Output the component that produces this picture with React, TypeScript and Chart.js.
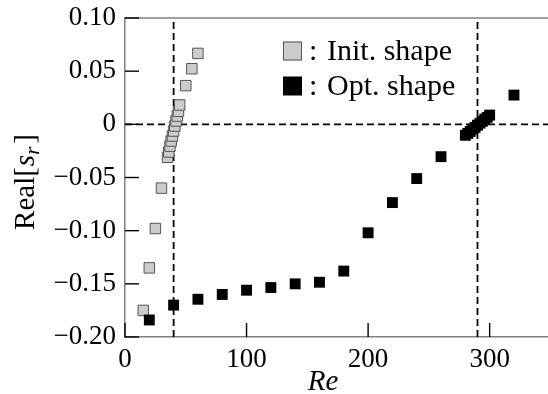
import React, { useEffect, useRef } from "react";
import { Chart, registerables } from "chart.js";

Chart.register(...registerables);

// ---- data ----
const initRe = [15, 20, 25, 30, 35, 36, 37, 38, 39, 40, 41, 42, 43, 44, 45, 50, 55, 60];
const initReal = [-0.175, -0.135, -0.098, -0.06, -0.031, -0.026, -0.0205, -0.0157, -0.011, -0.0063, -0.0016, 0.0031, 0.0078, 0.0122, 0.0182, 0.0364, 0.0523, 0.0667];

const optRe = [20, 40, 60, 80, 100, 120, 140, 160, 180, 200, 220, 240, 260, 280, 282, 284, 286, 288, 290, 292, 294, 296, 298, 300, 320];
const optReal = [-0.184, -0.17, -0.1645, -0.16, -0.156, -0.1535, -0.15, -0.1485, -0.138, -0.102, -0.0736, -0.051, -0.0304, -0.0103, -0.0085, -0.0067, -0.0046, -0.0029, -0.0008, 0.0011, 0.0028, 0.0049, 0.0066, 0.0087, 0.0275];

const criticalRe = [40, 290];
const zeroLevel = [0];

const xTickValues = [0, 100, 200, 300];
const xTickLabels = ["0", "100", "200", "300"];
const yTickValues = [-0.2, -0.15, -0.1, -0.05, 0, 0.05, 0.1];
const yTickLabels = ["\u22120.20", "\u22120.15", "\u22120.10", "\u22120.05", "0", "0.05", "0.10"];

const xRange = [0, 348];
const yRange = [-0.2, 0.1];

const legendLabels = ["Init. shape", "Opt. shape"];
const xTitle = "Re";
const yTitleParts = ["Real[", "s", "r", "]"];

const FONT = "'Liberation Serif', 'Times New Roman', serif";
const INIT_FILL = "#cccccc";
const INIT_EDGE = "#555555";
const FRAME = "#808080";

export default function App() {
  const ref = useRef<HTMLCanvasElement | null>(null);

  useEffect(() => {
    const canvas = ref.current;
    if (!canvas) return;

    const decorPlugin = {
      id: "decor",
      beforeDatasetsDraw(chart: any) {
        const { ctx, chartArea, scales } = chart;
        const { left, right, top, bottom } = chartArea;
        ctx.save();
        // top frame line
        ctx.strokeStyle = FRAME;
        ctx.lineWidth = 1.5;
        ctx.beginPath();
        ctx.moveTo(left, top);
        ctx.lineTo(right + 2, top);
        ctx.stroke();
        // inward ticks
        ctx.strokeStyle = "#000";
        ctx.lineWidth = 1.4;
        const tl = 14;
        for (const t of scales.x.ticks) {
          const px = scales.x.getPixelForValue(t.value);
          ctx.beginPath();
          ctx.moveTo(px, bottom);
          ctx.lineTo(px, bottom - tl);
          ctx.stroke();
        }
        for (const t of scales.y.ticks) {
          const py = scales.y.getPixelForValue(t.value);
          ctx.beginPath();
          ctx.moveTo(left, py);
          ctx.lineTo(left + tl, py);
          ctx.stroke();
        }
        ctx.restore();
      },
      afterDraw(chart: any) {
        const { ctx } = chart;
        ctx.save();
        ctx.fillStyle = "#000";
        // x title
        ctx.font = `italic 29px ${FONT}`;
        ctx.textAlign = "center";
        ctx.textBaseline = "alphabetic";
        ctx.fillText(xTitle, 323, 390);

        // y title (rotated, with italic s and subscript r)
        ctx.translate(34, 182);
        ctx.rotate(-Math.PI / 2);
        const fN = `29px ${FONT}`;
        const fI = `italic 29px ${FONT}`;
        const fS = `italic 21px ${FONT}`;
        ctx.font = fN;
        const w0 = ctx.measureText(yTitleParts[0]).width;
        ctx.font = fI;
        const w1 = ctx.measureText(yTitleParts[1]).width;
        ctx.font = fS;
        const w2 = ctx.measureText(yTitleParts[2]).width;
        ctx.font = fN;
        const w3 = ctx.measureText(yTitleParts[3]).width;
        const total = w0 + w1 + w2 + 4 + w3;
        let x = -total / 2;
        ctx.textAlign = "left";
        ctx.font = fN;
        ctx.fillText(yTitleParts[0], x, 0);
        x += w0 + 1;
        ctx.font = fI;
        ctx.fillText(yTitleParts[1], x, 0);
        x += w1;
        ctx.font = fS;
        ctx.fillText(yTitleParts[2], x, 5);
        x += w2 + 3;
        ctx.font = fN;
        ctx.fillText(yTitleParts[3], x, 0);
        ctx.setTransform(1, 0, 0, 1, 0, 0);

        // legend
        const lx = 283;
        const rows = [51, 86];
        const sq = 19;
        ctx.font = `30px ${FONT}`;
        ctx.textAlign = "left";
        ctx.textBaseline = "alphabetic";
        rows.forEach((cy, i) => {
          if (i === 0) {
            ctx.fillStyle = INIT_FILL;
            ctx.fillRect(lx, cy - sq / 2, sq, sq);
            ctx.strokeStyle = INIT_EDGE;
            ctx.lineWidth = 1;
            ctx.strokeRect(lx + 0.5, cy - sq / 2 + 0.5, sq - 1, sq - 1);
          } else {
            ctx.fillStyle = "#000";
            ctx.fillRect(lx, cy - sq / 2, sq, sq);
          }
          ctx.fillStyle = "#000";
          ctx.fillText(":", lx + sq + 7, cy + 9);
          ctx.fillText(legendLabels[i], lx + sq + 25, cy + 9);
        });
        ctx.restore();
      },
    };

    const dashed = (pts: { x: number; y: number }[]) => ({
      type: "scatter" as const,
      data: pts,
      showLine: true,
      borderColor: "#000",
      borderWidth: 1.8,
      borderDash: [7, 4],
      pointRadius: 0,
      pointHoverRadius: 0,
      fill: false,
    });

    const chart = new Chart(canvas, {
      type: "scatter",
      data: {
        datasets: [
          {
            label: legendLabels[1],
            data: optRe.map((x, i) => ({ x, y: optReal[i] })),
            pointStyle: "rect",
            pointRadius: 7.7,
            pointBackgroundColor: "#000",
            pointBorderColor: "#000",
            pointBorderWidth: 0,
          },
          {
            label: legendLabels[0],
            data: initRe.map((x, i) => ({ x, y: initReal[i] })),
            pointStyle: "rect",
            pointRadius: 7.4,
            pointBackgroundColor: INIT_FILL,
            pointBorderColor: INIT_EDGE,
            pointBorderWidth: 1,
          },
          dashed([
            { x: xRange[0], y: zeroLevel[0] },
            { x: xRange[1], y: zeroLevel[0] },
          ]),
          ...criticalRe.map((c) =>
            dashed([
              { x: c, y: yRange[0] },
              { x: c, y: yRange[1] },
            ])
          ),
        ] as any,
      },
      options: {
        animation: false,
        responsive: false,
        events: [],
        layout: { autoPadding: false, padding: { top: 18, right: 0, left: 0, bottom: 0 } },
        plugins: {
          legend: { display: false },
          tooltip: { enabled: false },
        },
        scales: {
          x: {
            type: "linear",
            min: xRange[0],
            max: xRange[1],
            afterBuildTicks: (s: any) => {
              s.ticks = xTickValues.map((v) => ({ value: v }));
            },
            afterFit: (s: any) => {
              s.height = 57;
              s.paddingLeft = 0;
              s.paddingRight = 0;
            },
            ticks: {
              padding: 7,
              color: "#000",
              font: { family: FONT, size: 27 },
              maxRotation: 0,
              callback: (v: any) => xTickLabels[xTickValues.indexOf(Number(v))] ?? "",
            },
            grid: { display: false, drawTicks: false },
            border: { display: true, color: FRAME, width: 1.5 },
          },
          y: {
            type: "linear",
            min: yRange[0],
            max: yRange[1],
            afterBuildTicks: (s: any) => {
              s.ticks = yTickValues.map((v) => ({ value: v }));
            },
            afterFit: (s: any) => {
              s.width = 125;
              s.paddingTop = 0;
              s.paddingBottom = 0;
            },
            ticks: {
              padding: 9,
              color: "#000",
              font: { family: FONT, size: 27 },
              callback: (v: any) => {
                const idx = yTickValues.findIndex((t) => Math.abs(t - Number(v)) < 1e-9);
                return idx >= 0 ? yTickLabels[idx] : "";
              },
            },
            grid: { display: false, drawTicks: false },
            border: { display: true, color: FRAME, width: 1.5 },
          },
        },
      },
      plugins: [decorPlugin],
    });

    return () => chart.destroy();
  }, []);

  return (
    <div style={{ position: "fixed", left: 0, top: 0, width: 548, height: 394, background: "#fff" }}>
      <canvas ref={ref} width={548} height={394} style={{ display: "block" }} />
    </div>
  );
}
